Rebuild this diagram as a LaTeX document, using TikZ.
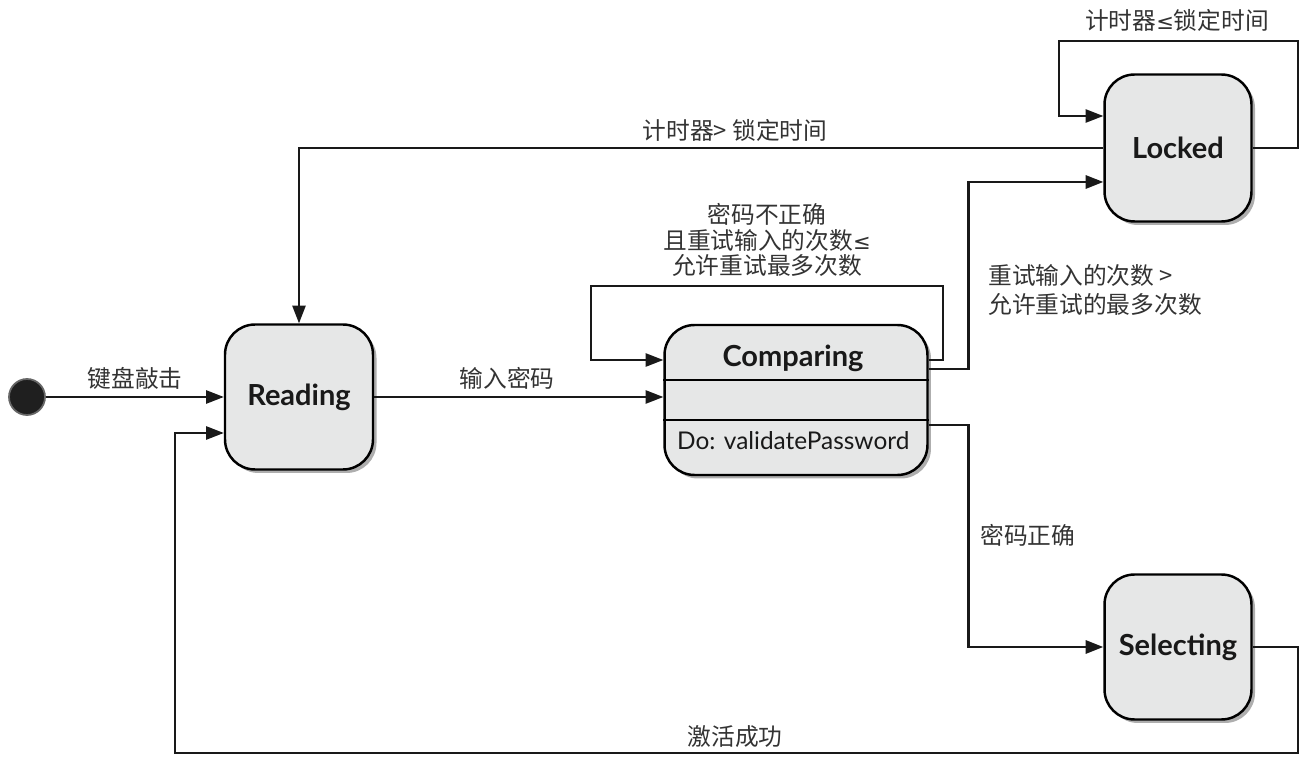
\documentclass[tikz,border=0pt]{standalone}
\usepackage{fontspec}
\setsansfont{Lato}
\newfontfamily\cjk{Noto Sans CJK SC}
\newfontfamily\symf{DejaVu Sans}
\usetikzlibrary{arrows.meta,shadows,calc}
\definecolor{stategray}{HTML}{E6E7E7}
\newcommand{\lesym}{{\symf\fontsize{12}{14}\selectfont ≤}}

\begin{document}
\begin{tikzpicture}[x=0.02cm,y=-0.02cm,>={Triangle[length=10pt,width=7.5pt]},
    state/.style={draw,line width=1.4pt,rounded corners=0.6cm,fill=stategray,
        drop shadow={shadow xshift=2pt,shadow yshift=-2pt,fill=black!45,opacity=0.7},
        font=\sffamily\bfseries\fontsize{16.5}{19}\selectfont,text=black!90},
    trans/.style={->,line width=1pt,black!90},
    lbl/.style={font=\cjk\fontsize{13.5}{14.5}\selectfont,text=black!80,inner sep=0pt}]
    % picture size (pixels of the layout)
    \useasboundingbox (0,0) rectangle (1313,773);

    % states
    \node[circle,fill=black!88,draw=black!60,line width=1pt,minimum size=0.72cm,inner sep=0pt] (init) at (27,397) {};
    \node[state,minimum width=2.96cm,minimum height=2.9cm] (rd) at (299,397) {Reading};
    \node[state,minimum width=5.26cm,minimum height=3cm] (cmp) at (796,400) {};
    \node[state,minimum width=2.94cm,minimum height=2.94cm] (lk) at (1178,148) {Locked};
    \node[state,minimum width=2.94cm,minimum height=2.9cm] (sel) at (1178,647) {Selecting};

    % compartments of Comparing
    \draw[line width=1.2pt] ($(cmp.north west)!0.367!(cmp.south west)$) -- ($(cmp.north east)!0.367!(cmp.south east)$);
    \draw[line width=1.2pt] ($(cmp.north west)!0.633!(cmp.south west)$) -- ($(cmp.north east)!0.633!(cmp.south east)$);
    \node[font=\sffamily\bfseries\fontsize{16.5}{19}\selectfont,text=black!90] (cmpname) at (793,358) {Comparing};
    \node[font=\sffamily\fontsize{13.9}{16}\selectfont,text=black!90,anchor=west] (cmpdo) at (671,441) {Do: validatePassword};

    % corners of the loops
    \coordinate (cmploop) at (591,286);
    \coordinate (lkloop) at (1059,41);
    \coordinate (selloop) at (175,753);

    % transitions
    \draw[trans] (init) -- (rd);
    \draw[trans] (rd.east) -- (rd.east -| cmp.west);
    \draw[trans] ([yshift=0.8cm]cmp.east) -- ++(14,0) |- (cmploop) |- ([yshift=0.8cm]cmp.west);
    \draw[trans,line width=1.4pt] ([yshift=0.62cm]cmp.east) -- ++(40,0) |- ([yshift=-0.68cm]lk.west);
    \draw[trans,line width=1.4pt] ([yshift=-0.5cm]cmp.east) -- ++(40,0) |- (sel.west);
    \draw[trans] (lk.east) -- ++(45,0) |- (lkloop) |- ([yshift=0.64cm]lk.west);
    \draw[trans] (lk.west) -| (rd.north);
    \draw[trans] (sel.east) -- ++(45,0) |- (selloop) |- ([yshift=-0.72cm]rd.west);

    % guards
    \node[lbl] (initrd) at (135,378) {键盘敲击};
    \node[lbl] (rdcmp) at (507,378) {输入密码};
    \node[lbl,align=center] (cmpself) at (767,240) {密码不正确\\且重试输入的次数\lesym\\允许重试最多次数};
    \node[lbl,align=left,anchor=west] (cmplk) at (988,290) {重试输入的次数 >\\[2pt]允许重试的最多次数};
    \node[lbl,anchor=west] (cmpsel) at (980,535) {密码正确};
    \node[lbl] (lkrd) at (735,130) {计时器> 锁定时间};
    \node[lbl] (lkself) at (1177,20) {计时器\lesym 锁定时间};
    \node[lbl] (selrd) at (735,737) {激活成功};
\end{tikzpicture}
\end{document}
